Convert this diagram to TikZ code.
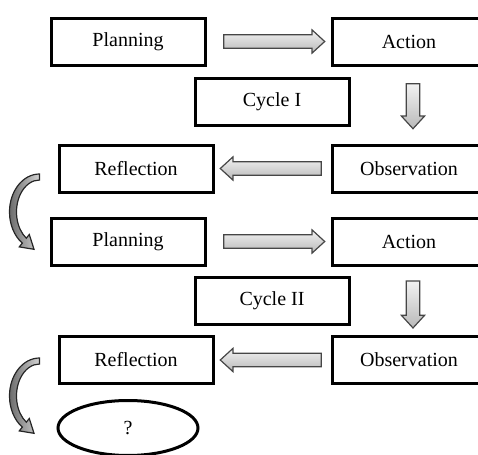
\documentclass[tikz,border=0pt]{standalone}
\usepackage{fontspec}
\setmainfont{Liberation Serif}
\usetikzlibrary{calc,shapes,arrows,shapes.arrows,shapes.geometric,positioning}

\tikzset{
  stage/.style={draw,line width=1.5pt,minimum width=77pt,minimum height=23.5pt,inner sep=0pt,font=\fontsize{10}{12}\selectfont},
  blockarrow/.style={single arrow,draw=gray!55!black,line width=0.6pt,top color=gray!10,bottom color=gray!55,inner xsep=0pt,inner ysep=3.1pt,single arrow head extend=2.4pt,single arrow tip angle=85,minimum height=50.5pt},
  curlarrow/.style={draw=gray!30!black,line width=0.6pt,left color=gray!85!black,right color=gray!35}
}

\begin{document}
\begin{tikzpicture}[x=0.5pt,y=0.5pt]
\useasboundingbox (0,0) rectangle (478,-455);

\node [stage] (p1) at (128,-41.5) {Planning};
\node [stage] (a1) at (409,-41.5) {Action};
\node [stage] (c1) at (272,-102) {Cycle I};
\node [stage] (r1) at (136,-168.5) {Reflection};
\node [stage] (o1) at (409,-168.5) {Observation};

\node [stage] (p2) at (128,-241.5) {Planning};
\node [stage] (a2) at (409,-241.5) {Action};
\node [stage] (c2) at (272,-301) {Cycle II};
\node [stage] (r2) at (136,-360) {Reflection};
\node [stage] (o2) at (409,-360) {Observation};

\node [draw,ellipse,line width=1.5pt,minimum width=70pt,minimum height=27.5pt,inner sep=0pt,font=\fontsize{10}{12}\selectfont] (q) at (128,-428) {?};

\node [blockarrow] (pa1) at ($(p1.east)!0.5!(a1.west)+(2,0)$) {};
\node [blockarrow,rotate=-90,minimum height=22.5pt] (ao1) at ($(a1.south)!0.5!(o1.north)+(4,2.5)$) {};
\node [blockarrow,rotate=180] (or1) at ($(o1.west)!0.5!(r1.east)+(2,0)$) {};

\node [blockarrow] (pa2) at ($(p2.east)!0.5!(a2.west)+(2,0)$) {};
\node [blockarrow,rotate=-90,minimum height=23.5pt] (ao2) at ($(a2.south)!0.5!(o2.north)+(4,0)$) {};
\node [blockarrow,rotate=180] (or2) at ($(o2.west)!0.5!(r2.east)+(2,0)$) {};

\coordinate (k1) at ($(r1.west)+(-18,-43.5)$);
\coordinate (k2) at ($(r2.west)+(-18,-36)$);
\foreach \k in {k1,k2}
  \filldraw [curlarrow] ($(\k)+(0,38)$) arc[start angle=90,end angle=235,x radius=15pt,y radius=19pt]
    -- ($(\k)+(-20.2,-34.9)$) -- ($(\k)+(-5.5,-37.3)$) -- ($(\k)+(-10.2,-22.5)$)
    -- ($(\k)+(-13.2,-26.2)$) arc[start angle=235,end angle=90,x radius=11.5pt,y radius=16pt] -- cycle;

\end{tikzpicture}
\end{document}
